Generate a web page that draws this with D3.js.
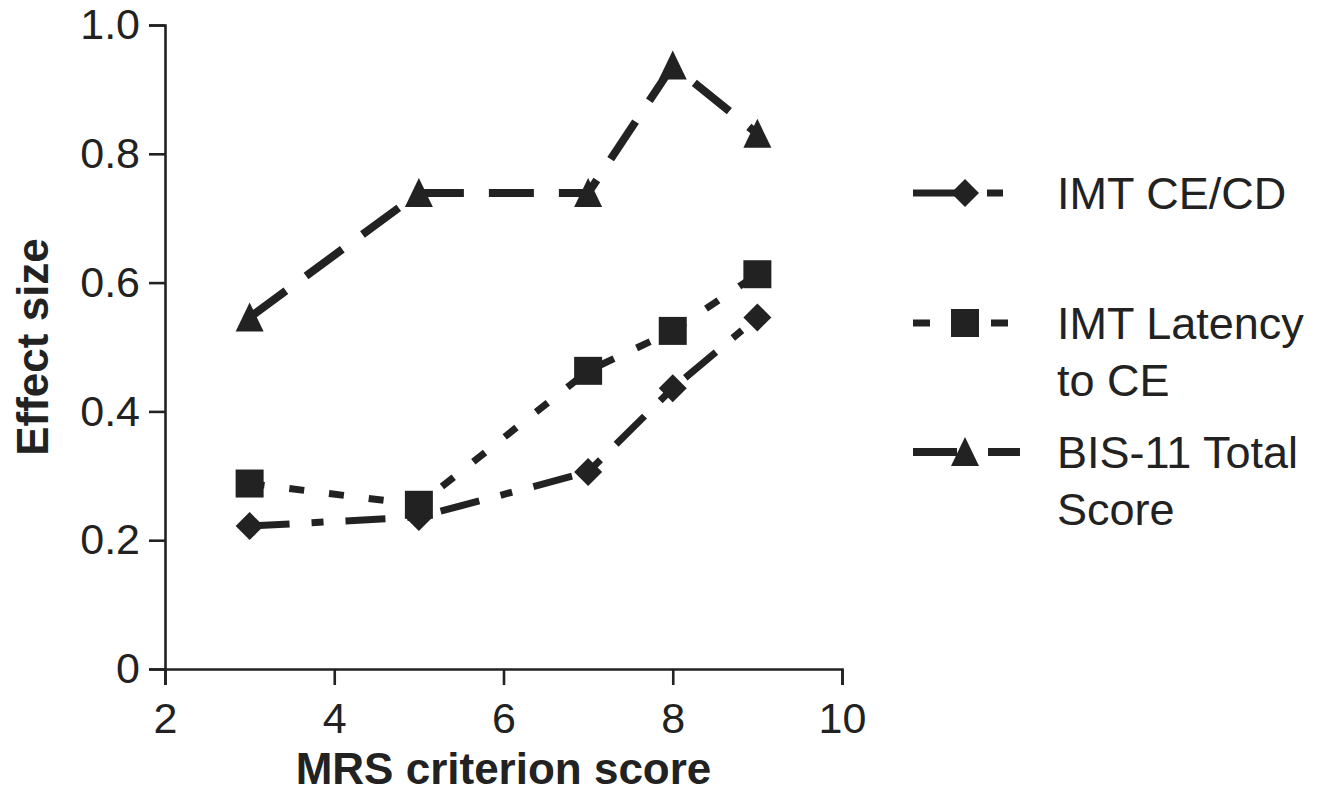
<!DOCTYPE html>
<html>
<head>
<meta charset="utf-8">
<script src="https://d3js.org/d3.v7.min.js"></script>
<style>
    body { margin: 0; background: #fff; }
    text { font-family: "Liberation Sans", Arial, Helvetica, sans-serif; fill: #222; }
</style>
</head>
<body>
<svg width="1332" height="794"></svg>
<script>
// MRS criterion scores on the x axis
var mrs_scores = [3, 5, 7, 8, 9]

// effect sizes
var imt_cecd = [0.222, 0.236, 0.306, 0.436, 0.546]
var imt_latency = [0.288, 0.255, 0.463, 0.525, 0.613]
var bis11_total = [0.546, 0.739, 0.739, 0.937, 0.831]

var series_names = [["IMT CE/CD"], ["IMT Latency", "to CE"], ["BIS-11 Total", "Score"]]

var x_ticks = [2, 4, 6, 8, 10]
var y_ticks = [0, 0.2, 0.4, 0.6, 0.8, 1.0]

var ink = "#222"

function setup_svg() {
    var svg = d3.select("svg"), margin = {
        top: 25, right: 490,
        bottom: 125, left: 165
    },
        width = svg.attr("width") - margin.left - margin.right,
        height = svg.attr("height") - margin.top - margin.bottom,
        g = svg.append("g").attr("transform", "translate(" + margin.left + "," + margin.top + ")");

    return { width, height, g, svg, margin };
}

function marker_path(shape) {
    if (shape == "diamond") return "M0,-14L14,0L0,14L-14,0Z"
    if (shape == "square") return "M-14,-14H14V14H-14Z"
    return "M0,-15L14,14H-14Z"
}

function display_axis(g, width, height, x_scale, y_scale) {
    var x_axis = g.append("g")
        .attr("transform", "translate(0," + height + ")")
        .call(d3.axisBottom(x_scale)
            .tickValues(x_ticks)
            .tickSize(16)
            .tickPadding(17)
            .tickFormat(d3.format("d")))
    var y_axis = g.append("g")
        .call(d3.axisLeft(y_scale)
            .tickValues(y_ticks)
            .tickSize(16)
            .tickPadding(9)
            .tickFormat(function (d) { return d == 0 ? "0" : d3.format(".1f")(d) }))

    ;[x_axis, y_axis].forEach(function (a) {
        a.selectAll("path, line").attr("stroke", ink).attr("stroke-width", 2.6)
        a.selectAll("text")
            .attr("fill", ink)
            .style("font-size", "43px")
            .style("font-family", "'Liberation Sans', Arial, sans-serif")
    })

    g.append("text")
        .attr("x", width / 2)
        .attr("y", height + 115)
        .attr("text-anchor", "middle")
        .attr("font-weight", "bold")
        .style("font-size", "44px")
        .text("MRS criterion score")

    g.append("text")
        .attr("transform", "translate(-117," + height / 2 + ") rotate(-90)")
        .attr("text-anchor", "middle")
        .attr("font-weight", "bold")
        .style("font-size", "44px")
        .text("Effect size")
}

function draw_series(g, values, x_scale, y_scale, style) {
    var pts = mrs_scores.map(function (x, i) { return [x, values[i]] })
    var line = d3.line()
        .x(function (d) { return x_scale(d[0]) })
        .y(function (d) { return y_scale(d[1]) })

    g.append("path")
        .datum(pts)
        .attr("fill", "none")
        .attr("stroke", ink)
        .attr("stroke-width", style.width)
        .attr("stroke-dasharray", style.dash)
        .attr("d", line)

    g.selectAll(null)
        .data(pts)
        .enter().append("path")
        .attr("transform", function (d) { return "translate(" + x_scale(d[0]) + "," + y_scale(d[1]) + ")" })
        .attr("d", marker_path(style.shape))
        .attr("fill", ink)
}

function display_legend(svg, styles) {
    var rows = [193, 323, 452]
    var legend = svg.selectAll(".legend")
        .data(styles)
        .enter().append("g")
        .attr("class", "legend")
        .attr("transform", function (d, i) { return "translate(913," + rows[i] + ")" })

    legend.append("line")
        .attr("x1", 0)
        .attr("x2", 107)
        .attr("stroke", ink)
        .attr("stroke-width", function (d) { return d.width })
        .attr("stroke-dasharray", function (d) { return d.legend_dash })

    legend.append("path")
        .attr("transform", "translate(52,0)")
        .attr("d", function (d) { return marker_path(d.shape) })
        .attr("fill", ink)

    legend.each(function (d, i) {
        var t = d3.select(this).append("text")
            .attr("x", 144)
            .attr("y", 16)
            .style("font-size", "45px")
        series_names[i].forEach(function (s, j) {
            t.append("tspan").attr("x", 144).attr("dy", j ? 57 : 0).text(s)
        })
    })
}

function display_chart() {
    var { width, height, g, svg, margin } = setup_svg();

    var x_scale = d3.scaleLinear().domain([2, 10]).range([0, width])
    var y_scale = d3.scaleLinear().domain([0, 1]).range([height, 0])

    display_axis(g, width, height, x_scale, y_scale)

    var styles = [
        { shape: "diamond", width: 7, dash: "40,22,12,22", legend_dash: "53,21,16,100" },
        { shape: "square", width: 7, dash: "15,25", legend_dash: "17,22,17,22,17,100" },
        { shape: "triangle", width: 8, dash: "45,25", legend_dash: "44,31,32,100" }
    ]

    draw_series(g, bis11_total, x_scale, y_scale, styles[2])
    draw_series(g, imt_latency, x_scale, y_scale, styles[1])
    draw_series(g, imt_cecd, x_scale, y_scale, styles[0])

    display_legend(svg, styles)
}

display_chart()
</script>
</body>
</html>
